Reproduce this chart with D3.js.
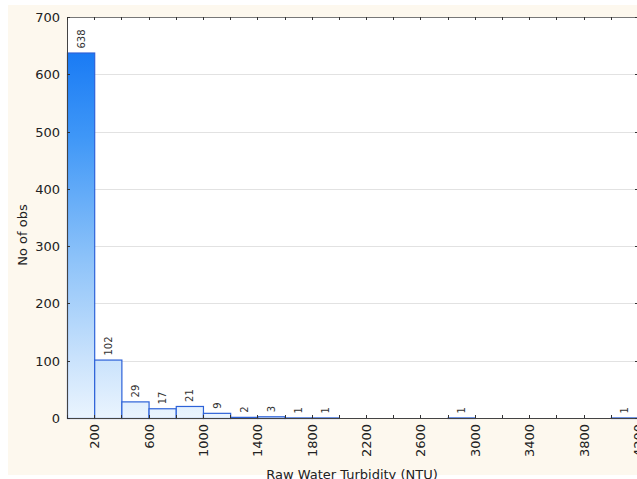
<!DOCTYPE html>
<html><head><meta charset="utf-8">
<script src="https://cdn.jsdelivr.net/npm/d3@7"></script>
<style>body{margin:0;background:#fff;}svg{display:block;}</style>
</head><body>
<svg id="c" width="637" height="479"></svg>
<script>
const binStarts = [0,200,400,600,800,1000,1200,1400,1600,1800,2800,4000];
const binWidth = 200;
const counts = [638,102,29,17,21,9,2,3,1,1,1,1];
const xTickLabels = [200,600,1000,1400,1800,2200,2600,3000,3400,3800,4200];
const xMinorTicks = d3.range(0,4201,200);
const yTicks = [0,100,200,300,400,500,600,700];

const svg = d3.select("#c");
const L=67, R=638, T=17, B=418;
const x = d3.scaleLinear().domain([0,4200]).range([L,R]);
const y = d3.scaleLinear().domain([0,700]).range([B,T]);
const font = "'DejaVu Sans', sans-serif";

svg.append("rect").attr("x",8).attr("y",5).attr("width",640).attr("height",470).attr("fill","#fdf8ee");
svg.append("rect").attr("x",L).attr("y",T).attr("width",R-L+10).attr("height",B-T).attr("fill","#fff");

const defs = svg.append("defs");
const g = defs.append("linearGradient").attr("id","gr").attr("gradientUnits","userSpaceOnUse")
  .attr("x1",0).attr("x2",0).attr("y1",T).attr("y2",B);
[[0,"#0a6ff3"],[0.3,"#3f97f7"],[0.6,"#8cc2f9"],[0.85,"#c9e2fc"],[1,"#eaf4fe"]].forEach(s=>
  g.append("stop").attr("offset",s[0]).attr("stop-color",s[1]));

// grid
svg.append("g").selectAll("line").data(yTicks.filter(d=>d>0&&d<700)).join("line")
  .attr("x1",L).attr("x2",R).attr("y1",d=>Math.round(y(d))+0.5).attr("y2",d=>Math.round(y(d))+0.5)
  .attr("stroke","#e2e2e2").attr("stroke-width",1);

// bars
svg.append("g").selectAll("rect").data(counts).join("rect")
  .attr("x",(d,i)=>x(binStarts[i])+0.5).attr("width",(d,i)=>x(binStarts[i]+binWidth)-x(binStarts[i]))
  .attr("y",d=>y(d)+0.5).attr("height",d=>B-y(d))
  .attr("fill","url(#gr)").attr("stroke","#2d62d8").attr("stroke-width",1.2);

// count labels
svg.append("g").selectAll("text").data(counts).join("text")
  .attr("transform",(d,i)=>`translate(${x(binStarts[i]+binWidth/2)+4},${y(d)-4}) rotate(-90)`)
  .attr("font-family",font).attr("font-size",10).attr("fill","#333").text(d=>d);

// frame
svg.append("line").attr("x1",L+0.5).attr("x2",L+0.5).attr("y1",T).attr("y2",B+1).attr("stroke","#444");
svg.append("line").attr("x1",L).attr("x2",R+5).attr("y1",B+0.5).attr("y2",B+0.5).attr("stroke","#444");
svg.append("line").attr("x1",L).attr("x2",R+5).attr("y1",T+0.5).attr("y2",T+0.5).attr("stroke","#777");

// x ticks (inward, top and bottom)
const tk = svg.append("g");
xMinorTicks.forEach(v=>{
  const xx=Math.round(x(v))+0.5;
  tk.append("line").attr("x1",xx).attr("x2",xx).attr("y1",B).attr("y2",B-3).attr("stroke","#333");
  tk.append("line").attr("x1",xx).attr("x2",xx).attr("y1",T).attr("y2",T+3).attr("stroke","#333");
});
yTicks.forEach(v=>{
  const yy=Math.round(y(v))+0.5;
  tk.append("line").attr("x1",L).attr("x2",L+3).attr("y1",yy).attr("y2",yy).attr("stroke","#333");
  tk.append("line").attr("x1",R-3).attr("x2",R).attr("y1",yy).attr("y2",yy).attr("stroke","#333");
});

// y tick labels
svg.append("g").selectAll("text").data(yTicks).join("text")
  .attr("x",60).attr("y",d=>y(d)+5).attr("text-anchor","end")
  .attr("font-family",font).attr("font-size",13).attr("fill","#222").text(d=>d);

// x tick labels
svg.append("g").selectAll("text").data(xTickLabels).join("text")
  .attr("transform",d=>`translate(${x(d)+5},${B+6}) rotate(-90)`).attr("text-anchor","end")
  .attr("font-family",font).attr("font-size",13).attr("fill","#222").text(d=>d);

// axis titles
svg.append("text").attr("transform","translate(27,235) rotate(-90)").attr("text-anchor","middle")
  .attr("font-family",font).attr("font-size",13).attr("fill","#222").text("No of obs");
svg.append("text").attr("x",352).attr("y",479).attr("text-anchor","middle")
  .attr("font-family",font).attr("font-size",13).attr("fill","#222").text("Raw Water Turbidity (NTU)");
</script>
</body></html>
